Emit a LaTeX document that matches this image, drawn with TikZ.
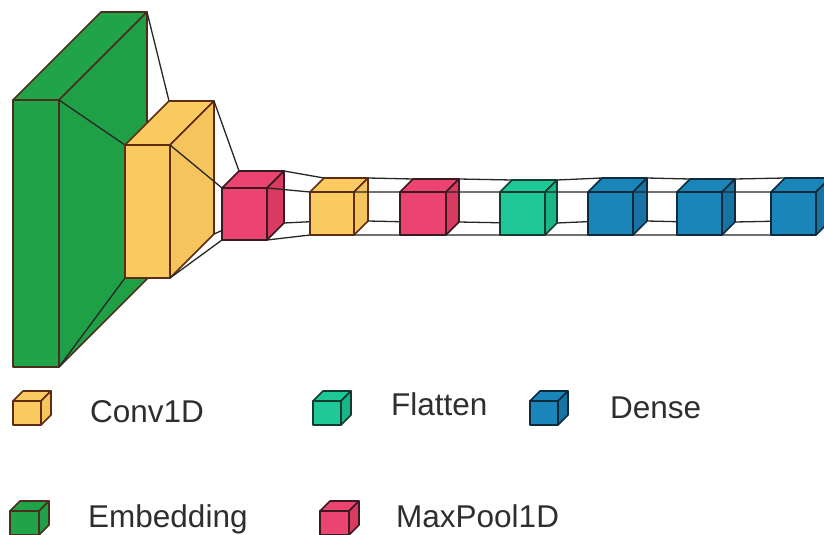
\documentclass[tikz,border=0pt]{standalone}
\usepackage{fontspec}
\setmainfont{Liberation Sans}
\usetikzlibrary{calc}

\definecolor{embF}{HTML}{21A449}
\definecolor{embS}{HTML}{20A046}
\definecolor{embE}{HTML}{4B2E1E}
\definecolor{convF}{HTML}{FBCB62}
\definecolor{convS}{HTML}{F6C45C}
\definecolor{convE}{HTML}{5E2B14}
\definecolor{poolF}{HTML}{EC4470}
\definecolor{poolS}{HTML}{D83A62}
\definecolor{poolE}{HTML}{3A1A20}
\definecolor{flatF}{HTML}{1FC997}
\definecolor{flatS}{HTML}{1BB688}
\definecolor{flatE}{HTML}{153A30}
\definecolor{denseF}{HTML}{1A85B8}
\definecolor{denseS}{HTML}{1773A3}
\definecolor{denseE}{HTML}{0F2A3A}
\definecolor{labelgray}{HTML}{2E2E2E}

\tikzset{
  face/.style={fill=#1F, draw=#1E, line width=1.6pt, line join=round},
  sideface/.style={fill=#1S, draw=#1E, line width=1.6pt, line join=round},
  funnel/.style={draw=black!85, line width=1.3pt},
  legend label/.style={anchor=base west, inner sep=0pt, text=labelgray,
    font=\fontsize{31.5}{36}\selectfont}
}

% name, front top-left corner, width, height, depth
\newcommand{\layerbox}[5]{%
  \coordinate (#1-flt) at (#2);
  \coordinate (#1-frt) at ($(#1-flt)+(#3,0)$);
  \coordinate (#1-fbl) at ($(#1-flt)+(0,#4)$);
  \coordinate (#1-fbr) at ($(#1-flt)+(#3,#4)$);
  \coordinate (#1-blt) at ($(#1-flt)+(#5,-#5)$);
  \coordinate (#1-brt) at ($(#1-frt)+(#5,-#5)$);
  \coordinate (#1-bbl) at ($(#1-fbl)+(#5,-#5)$);
  \coordinate (#1-bbr) at ($(#1-fbr)+(#5,-#5)$);
}
% name, kind
\newcommand{\drawlayer}[2]{%
  \filldraw[face=#2] (#1-flt) rectangle (#1-fbr);
  \filldraw[face=#2] (#1-flt) -- (#1-blt) -- (#1-brt) -- (#1-frt) -- cycle;
  \filldraw[sideface=#2] (#1-frt) -- (#1-brt) -- (#1-bbr) -- (#1-fbr) -- cycle;
}
\newcommand{\funnel}[2]{%
  \draw[funnel] (#1-frt) -- (#2-flt) (#1-brt) -- (#2-blt)
    (#1-fbr) -- (#2-fbl) (#1-bbr) -- (#2-bbl);
}

\begin{document}
\begin{tikzpicture}[x=1pt, y=-1pt]
  \clip (0,0) rectangle (824,535);

  % network
  \layerbox{emb}{13,100}{46}{267}{88}
  \layerbox{convA}{125,145}{45}{133}{44}
  \layerbox{poolA}{222,188}{45}{52}{17}
  \layerbox{convB}{310,192}{44}{43}{14}
  \layerbox{poolB}{400,192}{46}{43}{13}
  \layerbox{flat}{500,192}{45}{43}{12}
  \layerbox{denseA}{588,192}{45}{43}{14}
  \layerbox{denseB}{677,192}{45}{43}{13}
  \layerbox{denseC}{771,192}{45}{43}{14}

  \drawlayer{emb}{emb}
  \funnel{emb}{convA}
  \drawlayer{convA}{conv}
  \funnel{convA}{poolA}
  \drawlayer{poolA}{pool}
  \funnel{poolA}{convB}
  \drawlayer{convB}{conv}
  \funnel{convB}{poolB}
  \drawlayer{poolB}{pool}
  \funnel{poolB}{flat}
  \drawlayer{flat}{flat}
  \funnel{flat}{denseA}
  \drawlayer{denseA}{dense}
  \funnel{denseA}{denseB}
  \drawlayer{denseB}{dense}
  \funnel{denseB}{denseC}
  \drawlayer{denseC}{dense}

  % legend
  \layerbox{legconv}{13,401}{28}{24}{10}
  \drawlayer{legconv}{conv}
  \node[legend label] (lblconv) at (90,422) {Conv1D};
  \layerbox{legflat}{313,401}{28}{24}{10}
  \drawlayer{legflat}{flat}
  \node[legend label] (lblflat) at (391,415) {Flatten};
  \layerbox{legdense}{530,401}{28}{24}{10}
  \drawlayer{legdense}{dense}
  \node[legend label] (lbldense) at (610,418) {Dense};
  \layerbox{legemb}{10,511}{29}{24}{10}
  \drawlayer{legemb}{emb}
  \node[legend label] (lblemb) at (88,527) {Embedding};
  \layerbox{legpool}{320,511}{29}{24}{10}
  \drawlayer{legpool}{pool}
  \node[legend label] (lblpool) at (396,527) {MaxPool1D};
\end{tikzpicture}
\end{document}
